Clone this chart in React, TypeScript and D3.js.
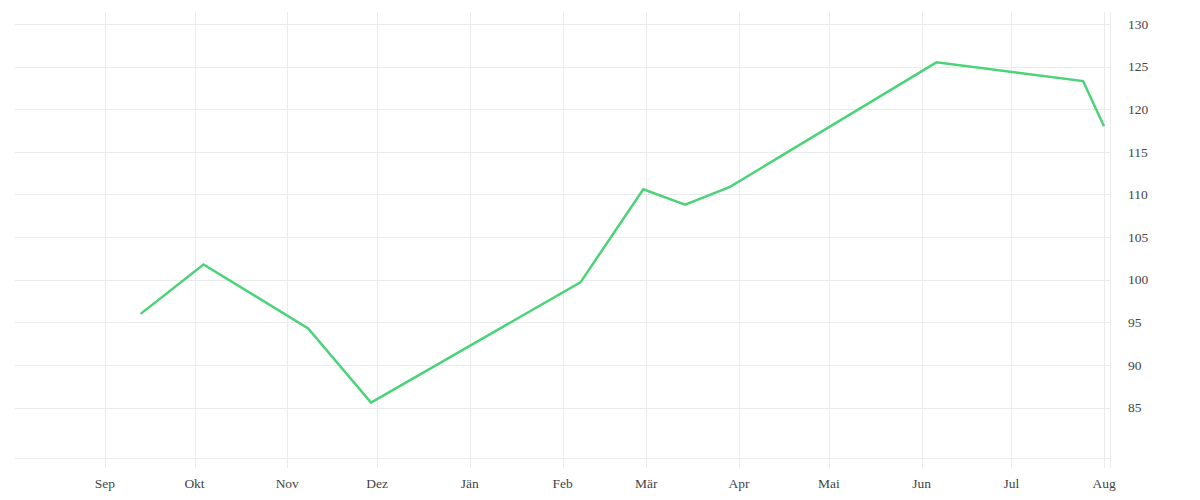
import { useEffect, useRef } from 'react'
import * as d3 from 'd3'

const dates = [
  '2022-09-13', '2022-10-04', '2022-11-08', '2022-11-29', '2023-02-07',
  '2023-02-28', '2023-03-14', '2023-03-29', '2023-06-06', '2023-07-25', '2023-08-01',
]
const values = [96.0, 101.8, 94.3, 85.6, 99.7, 110.6, 108.8, 110.9, 125.5, 123.3, 118.0]

const monthLabels = ['Sep', 'Okt', 'Nov', 'Dez', 'Jän', 'Feb', 'Mär', 'Apr', 'Mai', 'Jun', 'Jul', 'Aug']
const yTicks = [85, 90, 95, 100, 105, 110, 115, 120, 125, 130]

const parse = d3.timeParse('%Y-%m-%d')

export default function App() {
  const svgRef = useRef<SVGSVGElement>(null)

  useEffect(() => {
    if (!svgRef.current) return
    const svg = d3.select(svgRef.current)
    svg.selectAll('*').remove()

    const left = 15
    const right = 1110
    const top = 12
    const bottom = 458
    const font = '"Liberation Serif", serif'

    const x = d3.scaleTime()
      .domain([new Date(2022, 7, 2), new Date(2023, 7, 3)])
      .range([left, right])
    const y = d3.scaleLinear()
      .domain([79.1, 131.4])
      .range([bottom, top])

    const monthTicks = d3.timeMonth.range(new Date(2022, 8, 1), new Date(2023, 7, 2))

    // vertical grid + tick marks
    svg.append('g')
      .selectAll('line')
      .data(monthTicks)
      .join('line')
      .attr('x1', d => Math.round(x(d)) + 0.5)
      .attr('x2', d => Math.round(x(d)) + 0.5)
      .attr('y1', top)
      .attr('y2', bottom + 10)
      .attr('stroke', '#ebebeb')
      .attr('stroke-width', 1)

    // right border line
    svg.append('line')
      .attr('x1', right + 0.5)
      .attr('x2', right + 0.5)
      .attr('y1', top)
      .attr('y2', bottom + 10)
      .attr('stroke', '#ebebeb')

    // horizontal grid
    svg.append('g')
      .selectAll('line')
      .data([...yTicks, y.domain()[0]])
      .join('line')
      .attr('x1', left)
      .attr('x2', right)
      .attr('y1', d => Math.round(y(d)) + 0.5)
      .attr('y2', d => Math.round(y(d)) + 0.5)
      .attr('stroke', '#ebebeb')
      .attr('stroke-width', 1)

    // y labels
    svg.append('g')
      .selectAll('text')
      .data(yTicks)
      .join('text')
      .attr('x', 1128)
      .attr('y', d => y(d))
      .attr('dy', '0.35em')
      .attr('font-family', font)
      .attr('font-size', 13.5)
      .attr('fill', '#444')
      .text(d => d)

    // x labels
    svg.append('g')
      .selectAll('text')
      .data(monthTicks)
      .join('text')
      .attr('x', d => x(d))
      .attr('y', 488)
      .attr('text-anchor', 'middle')
      .attr('font-family', font)
      .attr('font-size', 13.5)
      .attr('fill', '#444')
      .text((d, i) => monthLabels[i])

    const points = dates.map((d, i) => [parse(d) as Date, values[i]] as [Date, number])
    const line = d3.line<[Date, number]>()
      .x(d => x(d[0]))
      .y(d => y(d[1]))

    svg.append('path')
      .datum(points)
      .attr('d', line)
      .attr('fill', 'none')
      .attr('stroke', '#4cd37a')
      .attr('stroke-width', 2.5)
      .attr('stroke-linejoin', 'miter')
  }, [])

  return (
    <svg
      ref={svgRef}
      width={1200}
      height={500}
      style={{ position: 'absolute', left: 0, top: 0, background: '#fff' }}
    />
  )
}
